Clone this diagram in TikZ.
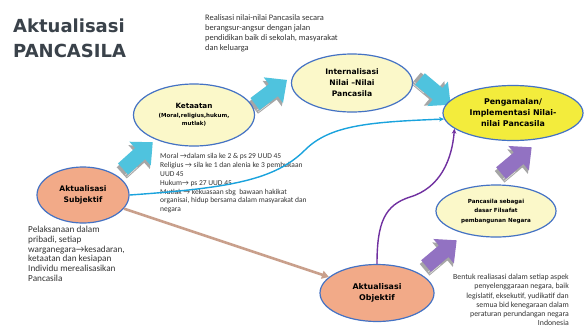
\documentclass[tikz,border=0pt]{standalone}
\usepackage{fontspec}
\setmainfont{Carlito}
\newfontfamily\nodefont{DejaVu Sans}
\usetikzlibrary{shapes.geometric,arrows.meta}
\definecolor{bordblue}{HTML}{4472C4}
\definecolor{paleyel}{HTML}{FBF8C9}
\definecolor{brightyel}{HTML}{F3EC3C}
\definecolor{salmon}{HTML}{F2AA88}
\definecolor{skyarrow}{HTML}{4FC3DE}
\definecolor{purplearrow}{HTML}{9272C2}
\definecolor{shadowgray}{HTML}{A6A6A6}
\definecolor{curveblue}{HTML}{1AA3DD}
\definecolor{curvepurple}{HTML}{7030A0}
\definecolor{tanline}{HTML}{C9A08C}
\definecolor{titlegray}{HTML}{3A424A}
\definecolor{textgray}{HTML}{333333}
\newcommand\blockarr[4]{%
  \begin{scope}[shift={(#1,#2)},rotate=#3]
    \fill[shadowgray] (-3.5,-5.5) -- (20,-5.5) -- (20,-14) -- (37,2) -- (20,18) -- (20,9.5) -- (-3.5,9.5) -- cycle;
    \draw[white!70!shadowgray, line width=0.5pt] (-2.5,6) -- (12,6) (-2.5,8.3) -- (12,8.3);
    \fill[#4] (0,-7.5) -- (23,-7.5) -- (23,-16) -- (40,0) -- (23,16) -- (23,7.5) -- (0,7.5) -- cycle;
  \end{scope}}
\tikzset{
  oval/.style={ellipse, draw=bordblue, line width=1.2pt, inner sep=0pt, align=center, text=black},
  note/.style={align=left, inner sep=0pt, text=textgray},
  titletext/.style={font=\nodefont\bfseries\fontsize{18}{22}\selectfont, text=titlegray, inner sep=0pt, anchor=base west},
}
\begin{document}
\begin{tikzpicture}[x=1pt,y=-1pt]
\useasboundingbox (0,0) rectangle (584,333);
\fill[white] (0,0) rectangle (584,333);

% title
\node[titletext] (t1) at (13,32) {Aktualisasi};
\node[titletext] (t2) at (13,57) {PANCASILA};

% block arrows
\blockarr{123}{169}{42}{skyarrow}
\blockarr{255}{104}{37}{skyarrow}
\blockarr{420}{79}{-40}{skyarrow}
\blockarr{501}{173}{40}{purplearrow}
\blockarr{426}{266}{40}{purplearrow}

% ellipses
\node[oval, fill=paleyel, minimum width=121, minimum height=62,
      font=\nodefont\bfseries\fontsize{5.5}{8}\selectfont] (ket) at (194,115)
  {{\fontsize{7.2}{9}\selectfont Ketaatan}\\[1pt](Moral,religius,hukum,\\mutlak)};
\node[oval, fill=paleyel, minimum width=121, minimum height=58,
      font=\nodefont\bfseries\fontsize{7.6}{11}\selectfont] (int) at (352,83)
  {Internalisasi\\Nilai –Nilai\\Pancasila};
\node[oval, fill=brightyel, minimum width=140, minimum height=55,
      font=\nodefont\bfseries\fontsize{7.9}{11}\selectfont] (peng) at (513,113)
  {Pengamalan/\\Implementasi Nilai-\\nilai Pancasila};
\node[oval, fill=paleyel, minimum width=120, minimum height=52,
      font=\nodefont\bfseries\fontsize{5.6}{9.5}\selectfont] (fil) at (496,211)
  {Pancasila sebagai\\dasar Filsafat\\pembangunan Negara};
\node[oval, fill=salmon, minimum width=114, minimum height=57,
      font=\nodefont\bfseries\fontsize{7.9}{10.5}\selectfont] (obj) at (377,293)
  {Aktualisasi\\Objektif};
\node[oval, fill=salmon, minimum width=92, minimum height=56,
      font=\nodefont\bfseries\fontsize{7.6}{10.5}\selectfont] (subj) at (83,195)
  {Aktualisasi\\Subjektif};

% text notes
\node[note, anchor=north west, font=\fontsize{8.4}{10.3}\selectfont] (n1) at (205,14)
  {Realisasi nilai-nilai Pancasila secara\\berangsur-angsur dengan jalan\\pendidikan baik di sekolah, masyarakat\\dan keluarga};
\node[note, anchor=north west, font=\fontsize{7.5}{8.9}\selectfont] (n2) at (160,153)
  {Moral \textrightarrow dalam sila ke 2 \& ps 29 UUD 45\\Religius \textrightarrow{} sila ke 1 dan alenia ke 3 pembukaan\\UUD 45\\Hukum\textrightarrow{} ps 27 UUD 45\\Mutlak \textrightarrow{} kekuasaan sbg\ \ bawaan hakikat\\organisai, hidup bersama dalam masyarakat dan\\negara};
\node[note, anchor=north west, font=\fontsize{9.2}{9.8}\selectfont] (n3) at (28,226)
  {Pelaksanaan dalam\\pribadi, setiap\\warganegara\textrightarrow kesadaran,\\ketaatan dan kesiapan\\Individu merealisasikan\\Pancasila};
\node[note, anchor=north east, align=right, font=\fontsize{7.8}{9.2}\selectfont] (n4) at (569,274)
  {Bentuk realiasasi dalam setiap aspek\\penyelenggaraan negara, baik\\legislatif, eksekutif, yudikatif dan\\semua bid kenegaraan dalam\\peraturan perundangan negara\\Indonesia};

% connectors
\draw[tanline, line width=2.6pt, -{Triangle[length=7pt,width=8pt]}] (subj) -- (obj);
\draw[curveblue, line width=1.4pt, -{Stealth[length=5pt,width=4.5pt]}]
  (subj.east) .. controls (230,188) and (275,180) .. (305,150)
  .. controls (330,125) and (370,122) .. (peng.185);
\draw[curvepurple, line width=1.4pt, -{Stealth[length=5pt,width=4.5pt]}]
  (obj.north) .. controls (377,222) and (385,205) .. (410,197)
  .. controls (440,188) and (452,160) .. (peng.195);
\end{tikzpicture}
\end{document}
